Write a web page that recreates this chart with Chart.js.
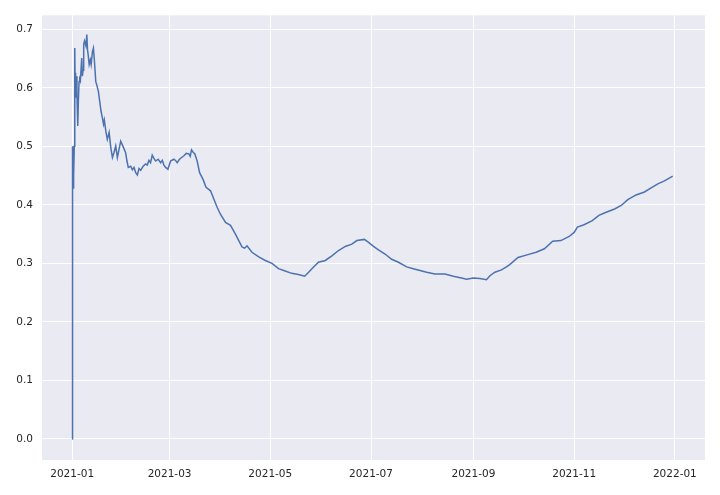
<!DOCTYPE html>
<html>
<head>
<meta charset="utf-8">
<script src="https://cdn.jsdelivr.net/npm/chart.js@4.4.0/dist/chart.umd.min.js"></script>
<style>
  html, body { margin: 0; padding: 0; background: #fff; }
  #wrap { width: 720px; height: 495px; }
</style>
</head>
<body>
<div id="wrap"><canvas id="c" width="720" height="495"></canvas></div>
<script>
// days counted from 2021-01-01
var days = [
  0, 0.05, 0.1, 0.15, 0.2, 0.3, 0.4, 0.5, 0.6, 0.8, 1.0, 1.3, 1.6, 1.8, 2.0, 2.2, 2.5, 2.9,
  3.4, 3.8, 4.2, 4.6, 5.0, 5.8, 6.2, 6.6, 7.0, 7.5, 8.3, 8.9, 9.3, 9.7, 10.3, 11.0, 11.5, 12.3,
  12.9, 13.5, 14.3, 15.1, 15.9, 16.7, 17.5, 18.3, 19.0, 19.5, 20.4, 21.3, 22.4, 23.4, 24.4, 25.4,
  26.4, 27.4, 28.4, 29.4, 30.8, 32.4, 33.2, 34.0, 35.5, 36.5, 37.5, 38.5, 39.5, 40.5, 41.5, 43.0,
  44.5, 45.5, 46.5, 47.5, 48.5, 49.6, 50.6, 52.1, 53.6, 54.6, 55.6, 56.6, 58.0, 59.6, 61.6, 62.6,
  63.6, 65.0, 66.3, 67.7, 69.1, 70.7, 71.5, 72.3, 73.3, 74.3, 75.7, 77.2, 79.2, 81.1, 83.8, 85.8,
  87.8, 89.8, 92.9, 95.9, 98.9, 100.9, 102.9, 104.4, 105.9, 108.9, 113, 117, 121, 125, 129, 133,
  137, 140.8, 143.2, 146.2, 149.2, 153.3, 157.3, 161.3, 165.4, 169.4, 172.4, 177, 179.5, 182.5,
  185.5, 189.5, 193.5, 197.6, 202.6, 206.6, 210.7, 214.7, 219.7, 225.8, 230.8, 235.8, 238.9, 242.9,
  246.9, 250.9, 253, 256, 260, 263, 265, 270, 276, 281, 286, 291, 296, 301, 304, 306, 310, 315, 319,
  323, 328.5, 332.5, 336.5, 341.5, 346.6, 350.6, 354.7, 358.7, 363.7
];
var values = [
  0.0, 0.5, 0.333, 0.5, 0.4, 0.5, 0.4, 0.5, 0.429, 0.5, 0.45, 0.5, 0.668, 0.6, 0.626, 0.583, 0.62, 0.59,
  0.535, 0.58, 0.611, 0.615, 0.612, 0.651, 0.62, 0.63, 0.674, 0.68, 0.672, 0.691, 0.665, 0.657, 0.64, 0.648, 0.64, 0.662,
  0.668, 0.646, 0.611, 0.603, 0.594, 0.577, 0.56, 0.549, 0.538, 0.545, 0.526, 0.512, 0.524, 0.498, 0.481, 0.49,
  0.501, 0.481, 0.495, 0.509, 0.5, 0.489, 0.475, 0.464, 0.466, 0.46, 0.464, 0.455, 0.451, 0.462, 0.459, 0.466,
  0.47, 0.468, 0.476, 0.472, 0.485, 0.479, 0.475, 0.478, 0.472, 0.476, 0.468, 0.464, 0.461, 0.475, 0.478, 0.476,
  0.472, 0.478, 0.481, 0.484, 0.488, 0.487, 0.483, 0.494, 0.49, 0.487, 0.475, 0.455, 0.444, 0.43, 0.424, 0.41,
  0.396, 0.384, 0.37, 0.365, 0.35, 0.339, 0.328, 0.326, 0.33, 0.319, 0.311, 0.305, 0.3, 0.291, 0.287, 0.283,
  0.281, 0.278, 0.285, 0.294, 0.302, 0.305, 0.313, 0.322, 0.329, 0.333, 0.339, 0.341, 0.336, 0.329,
  0.323, 0.316, 0.307, 0.302, 0.294, 0.291, 0.288, 0.285, 0.282, 0.282, 0.278, 0.275, 0.273, 0.275,
  0.274, 0.272, 0.279, 0.285, 0.289, 0.294, 0.298, 0.31, 0.315, 0.319, 0.325, 0.338, 0.339, 0.346, 0.353, 0.362, 0.366, 0.373, 0.382,
  0.387, 0.393, 0.399, 0.409, 0.417, 0.422, 0.429, 0.436, 0.441, 0.449
];
var tickDays = [0, 59, 120, 181, 243, 304, 365];
var tickLabels = ['2021-01', '2021-03', '2021-05', '2021-07', '2021-09', '2021-11', '2022-01'];
var yTicks = [0, 0.1, 0.2, 0.3, 0.4, 0.5, 0.6, 0.7];

var points = days.map(function(d, i) { return { x: d, y: values[i] }; });

var plotBg = {
  id: 'plotBg',
  beforeDraw: function(chart) {
    var a = chart.chartArea, ctx = chart.ctx;
    ctx.save();
    ctx.fillStyle = '#EAEAF2';
    ctx.fillRect(a.left, a.top, a.right - a.left, a.bottom - a.top);
    ctx.restore();
  }
};

new Chart(document.getElementById('c').getContext('2d'), {
  type: 'line',
  data: {
    datasets: [{
      data: points,
      borderColor: '#4C72B0',
      borderWidth: 1.5,
      pointRadius: 0,
      tension: 0,
      fill: false
    }]
  },
  options: {
    responsive: false,
    animation: false,
    layout: { padding: { top: 14, right: 15, left: 0, bottom: 0 } },
    plugins: { legend: { display: false }, tooltip: { enabled: false } },
    scales: {
      x: {
        type: 'linear',
        min: -18.25,
        max: 383.25,
        afterBuildTicks: function(s) { s.ticks = tickDays.map(function(v) { return { value: v }; }); },
        afterFit: function(s) { s.height = 35; },
        grid: { color: '#ffffff', lineWidth: 1, drawTicks: false },
        border: { display: false },
        ticks: {
          padding: 8,
          color: '#262626',
          font: { family: 'DejaVu Sans', size: 10.5 },
          maxRotation: 0,
          callback: function(v) { var i = tickDays.indexOf(v); return i >= 0 ? tickLabels[i] : ''; }
        }
      },
      y: {
        min: -0.036,
        max: 0.724,
        afterBuildTicks: function(s) { s.ticks = yTicks.map(function(v) { return { value: v }; }); },
        afterFit: function(s) { s.width = 42; },
        grid: { color: '#ffffff', lineWidth: 1, drawTicks: false },
        border: { display: false },
        ticks: {
          padding: 9,
          color: '#262626',
          font: { family: 'DejaVu Sans', size: 10.5 },
          callback: function(v) { return v.toFixed(1); }
        }
      }
    }
  },
  plugins: [plotBg]
});
</script>
</body>
</html>
